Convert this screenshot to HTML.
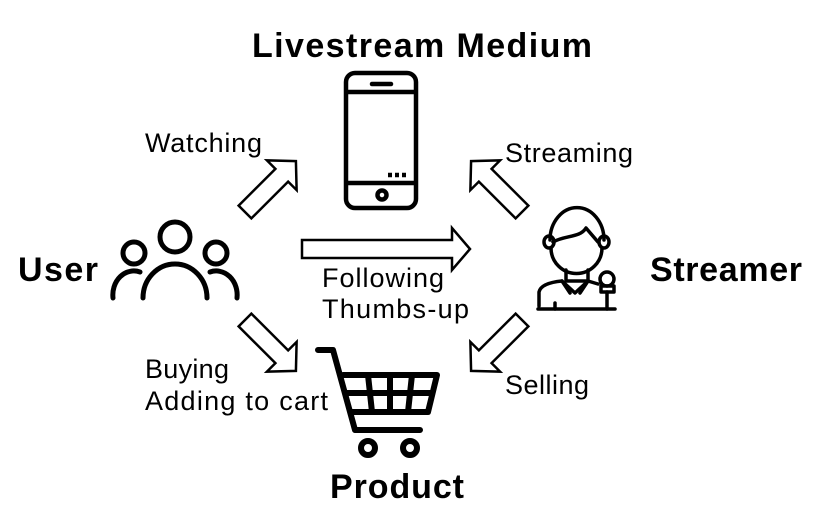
<!DOCTYPE html>
<html><head><meta charset="utf-8"><style>
html,body{margin:0;padding:0;background:#fff;}
svg{display:block;}
text{font-family:"Liberation Sans",sans-serif;fill:#000;}
.l{font-size:27px;}
.b{font-size:34px;font-weight:bold;}
</style></head><body>
<svg width="822" height="525" viewBox="0 0 822 525" xmlns="http://www.w3.org/2000/svg">
<defs>
<path id="ar" d="M0,-9 L52,-9 L52,-21 L72,0 L52,21 L52,9 L0,9 Z" fill="#fff" stroke="#000" stroke-width="2.5" stroke-linejoin="miter"/>
</defs>
<text class="b" x="252" y="57" textLength="340">Livestream Medium</text>
<text class="b" x="18" y="281" textLength="80">User</text>
<text class="b" x="650" y="281" textLength="152">Streamer</text>
<text class="b" x="330" y="498" textLength="134">Product</text>

<text class="l" x="145" y="152" textLength="117">Watching</text>
<text class="l" x="505" y="162" textLength="128">Streaming</text>
<text class="l" x="322" y="287" textLength="122">Following</text>
<text class="l" x="322" y="318" textLength="147">Thumbs-up</text>
<text class="l" x="145" y="378" textLength="84">Buying</text>
<text class="l" x="145" y="410" textLength="183">Adding to cart</text>
<text class="l" x="505" y="394" textLength="84">Selling</text>

<!-- arrows -->
<use href="#ar" transform="translate(245,212) rotate(-45)"/>
<use href="#ar" transform="translate(522,212) rotate(-135)"/>
<use href="#ar" transform="translate(522,320) rotate(135)"/>
<use href="#ar" transform="translate(245,320) rotate(45)"/>
<path d="M302,240 L452,240 L452,228 L470,249 L452,270 L452,258 L302,258 Z" fill="#fff" stroke="#000" stroke-width="2.5"/>

<!-- phone -->
<g fill="none" stroke="#000" stroke-width="4.5">
<rect x="346" y="73" width="70" height="135" rx="9"/>
<line x1="346" y1="92" x2="416" y2="92"/>
<line x1="346" y1="183" x2="416" y2="183"/>
<line x1="372" y1="84" x2="391" y2="84" stroke-linecap="round"/>
<circle cx="382" cy="195" r="4.5"/>
<line x1="388" y1="175" x2="408" y2="175" stroke-dasharray="4,3"/>
</g>

<!-- users -->
<g fill="none" stroke="#000" stroke-width="5" stroke-linecap="round">
<circle cx="175" cy="237" r="15"/>
<circle cx="134" cy="253" r="11"/>
<circle cx="216" cy="253" r="11"/>
<path d="M143,298 A32,34 0 0 1 207,298"/>
<path d="M113,298 A21,24 0 0 1 140,272"/>
<path d="M237,298 A21,24 0 0 0 210,272"/>
</g>

<!-- streamer -->
<g fill="none" stroke="#000" stroke-width="3.5" stroke-linecap="round" stroke-linejoin="round">
<path d="M550,240 A25,30 0 0 1 604,240"/>
<path d="M551,248 A24,24 0 0 0 602,248"/>
<path d="M553,242 C565,235 580,238 586,228 L598,242"/>
<ellipse cx="549" cy="242" rx="5" ry="6"/>
<ellipse cx="604" cy="242" rx="5" ry="6"/>
<path d="M566,270 L566,281 L588,281 L588,270"/>
<path d="M539,306 L539,292 Q541,283 562,281 L575,293 L588,281 L598,284"/>
<path d="M562,281 L570,293 M588,281 L580,293"/>
<line x1="538" y1="309" x2="615" y2="309"/>
<line x1="555" y1="303" x2="555" y2="309"/>
<circle cx="607" cy="279" r="7"/>
<rect x="601" y="286" width="13" height="6"/>
<line x1="607" y1="292" x2="607" y2="309"/>
</g>

<!-- cart -->
<g fill="none" stroke="#000" stroke-width="6" stroke-linecap="round" stroke-linejoin="round">
<path d="M318,350 L333,350 L355,430 L420,430"/>
<path d="M343,375 L437,375 L428,412 L352,412"/>
<line x1="347" y1="393" x2="432" y2="393"/>
<line x1="368" y1="375" x2="372" y2="412"/>
<line x1="390" y1="375" x2="390" y2="412"/>
<line x1="412" y1="375" x2="408" y2="412"/>
<circle cx="368" cy="448" r="7"/>
<circle cx="410" cy="448" r="7"/>
</g>
</svg>
</body></html>
